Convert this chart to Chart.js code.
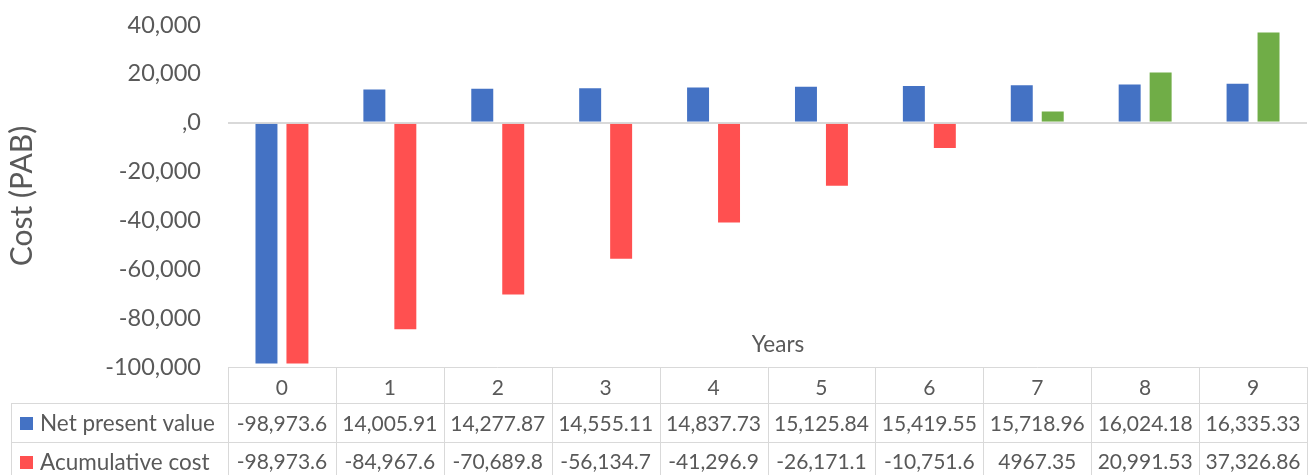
<!DOCTYPE html>
<html>
<head>
<meta charset="utf-8">
<script src="https://cdn.jsdelivr.net/npm/chart.js@4.4.1/dist/chart.umd.min.js"></script>
<style>
  html, body { margin: 0; padding: 0; background: #ffffff; }
  #wrap { width: 1315px; height: 475px; }
</style>
</head>
<body>
<div id="wrap"><canvas id="chart" width="1315" height="475"></canvas></div>
<script>
// Years of the project
const years = ['0', '1', '2', '3', '4', '5', '6', '7', '8', '9'];
// Discounted yearly cash flow (PAB)
const netPresentValue = [-98973.6, 14005.91, 14277.87, 14555.11, 14837.73, 15125.84, 15419.55, 15718.96, 16024.18, 16335.33];
// Running total of the discounted cash flow (PAB)
const accumulativeCost = [-98973.6, -84967.6, -70689.8, -56134.7, -41296.9, -26171.1, -10751.6, 4967.35, 20991.53, 37326.86];
// Value axis ticks
const yTicks = [-100000, -80000, -60000, -40000, -20000, 0, 20000, 40000];
const seriesNames = ['Net present value', 'Acumulative cost'];

const BLUE = '#4472C4';
const RED = '#FF5050';
const GREEN = '#70AD47';
const TEXT = '#595959';
const LINE = '#D9D9D9';
const FONT = 'Lato, "Open Sans", sans-serif';

// Table cell text: thousands separators only from five digits up
function cellText(v) {
  const s = String(v);
  if (Math.abs(v) < 10000) return s;
  const neg = s.startsWith('-');
  const body = neg ? s.slice(1) : s;
  const [intPart, dec] = body.split('.');
  const grouped = intPart.replace(/\B(?=(\d{3})+(?!\d))/g, ',');
  return (neg ? '-' : '') + grouped + (dec !== undefined ? '.' + dec : '');
}

function tickText(v) {
  if (v === 0) return ',0';
  return v.toLocaleString('en-US');
}

// Data table under the plot plus the "Years" caption
const dataTable = {
  id: 'dataTable',
  afterDraw(chart) {
    const { ctx, chartArea, scales } = chart;
    const x = scales.x;
    const n = years.length;
    const colW = (chartArea.right - chartArea.left) / n;
    const left = chartArea.left;
    const right = chartArea.right;
    const top = chartArea.bottom;
    const row1 = top + 36;
    const row2 = row1 + 39;
    const row3 = row2 + 39;
    const tableLeft = 11;

    ctx.save();
    ctx.strokeStyle = LINE;
    ctx.lineWidth = 1;
    ctx.beginPath();
    // horizontal rules
    ctx.moveTo(left, top + 0.5); ctx.lineTo(right, top + 0.5);
    ctx.moveTo(tableLeft, Math.round(row1) + 0.5); ctx.lineTo(right, Math.round(row1) + 0.5);
    ctx.moveTo(tableLeft, Math.round(row2) + 0.5); ctx.lineTo(right, Math.round(row2) + 0.5);
    // vertical rules
    ctx.moveTo(tableLeft + 0.5, row1); ctx.lineTo(tableLeft + 0.5, row3);
    for (let i = 0; i <= n; i++) {
      const xx = Math.round(left + i * colW) + 0.5;
      ctx.moveTo(xx, top); ctx.lineTo(xx, row3);
    }
    ctx.stroke();

    ctx.fillStyle = TEXT;
    ctx.textBaseline = 'middle';
    ctx.textAlign = 'center';
    ctx.font = '21px ' + FONT;
    years.forEach((y, i) => {
      ctx.fillText(y, x.getPixelForValue(i), (top + row1) / 2 + 3);
    });
    const rows = [netPresentValue, accumulativeCost];
    const rowMid = [(row1 + row2) / 2 + 1.5, (row2 + row3) / 2 + 1];
    rows.forEach((vals, r) => {
      vals.forEach((v, i) => {
        ctx.fillText(cellText(v), x.getPixelForValue(i), rowMid[r]);
      });
    });

    // series keys
    const keyColors = [BLUE, RED];
    ctx.textAlign = 'left';
    ctx.font = '22.5px ' + FONT;
    seriesNames.forEach((name, r) => {
      ctx.fillStyle = keyColors[r];
      ctx.fillRect(20, Math.round(rowMid[r] - 7), 13, 13);
      ctx.fillStyle = TEXT;
      ctx.fillText(name, 40, rowMid[r]);
    });

    // axis caption
    ctx.textAlign = 'center';
    ctx.font = '22.5px ' + FONT;
    ctx.fillText('Years', 778, 345);
    ctx.restore();
  }
};

new Chart(document.getElementById('chart'), {
  type: 'bar',
  data: {
    labels: years,
    datasets: [
      {
        label: seriesNames[0],
        data: netPresentValue,
        backgroundColor: BLUE,
        borderColor: 'rgba(255,255,255,0.45)',
        borderWidth: 1,
        categoryPercentage: 0.574,
        barPercentage: 0.774
      },
      {
        label: seriesNames[1],
        data: accumulativeCost,
        backgroundColor: (c) => (c.raw < 0 ? RED : GREEN),
        borderColor: 'rgba(255,255,255,0.45)',
        borderWidth: 1,
        categoryPercentage: 0.574,
        barPercentage: 0.774
      }
    ]
  },
  options: {
    responsive: false,
    animation: false,
    devicePixelRatio: 1,
    layout: { padding: { left: 0, right: 8, top: 25, bottom: 108 } },
    plugins: {
      legend: { display: false },
      tooltip: { enabled: false }
    },
    scales: {
      x: { display: false },
      y: {
        min: -100000,
        max: 40000,
        afterBuildTicks: (s) => { s.ticks = yTicks.map((v) => ({ value: v })); },
        afterFit: (s) => {
          s.width = 228;
          s.paddingTop = 0;
          s.paddingBottom = 0;
        },
        ticks: {
          callback: (v) => tickText(v),
          color: TEXT,
          font: { family: FONT, size: 23.5 },
          padding: 27
        },
        grid: {
          drawTicks: false,
          color: (c) => (c.tick && c.tick.value === 0 ? LINE : 'rgba(0,0,0,0)'),
          lineWidth: 2
        },
        border: { display: false },
        title: {
          display: true,
          text: 'Cost (PAB)',
          color: TEXT,
          font: { family: FONT, size: 30 },
          padding: { top: 4, bottom: 0 }
        }
      }
    }
  },
  plugins: [dataTable]
});
</script>
</body>
</html>
